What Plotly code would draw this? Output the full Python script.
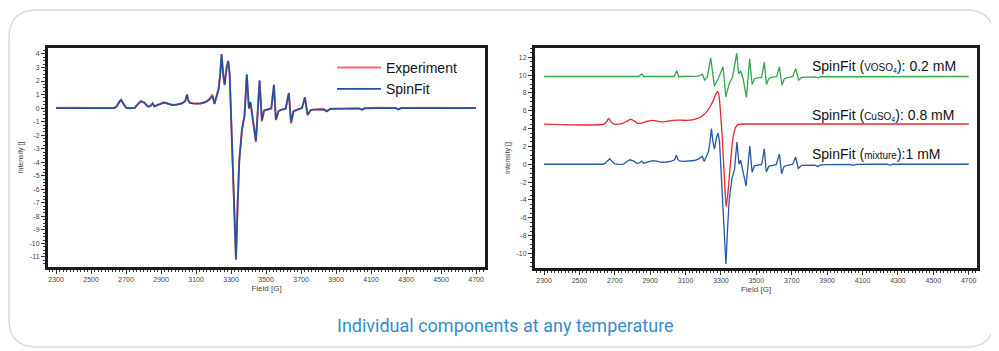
import plotly.graph_objects as go

# ---------------- data ----------------
mix_field = [2300, 2630, 2645, 2660, 2671, 2685, 2700, 2720, 2750, 2765, 2785, 2805, 2825, 2840, 2852,
             2862, 2880, 2900, 2915, 2935, 2962, 2990, 3020, 3038, 3048, 3056, 3065, 3090, 3124, 3150,
             3172, 3188, 3194, 3205, 3218, 3229, 3238, 3246, 3254, 3263, 3275, 3284, 3292, 3305, 3318,
             3328, 3338, 3347, 3362, 3377, 3390, 3402, 3411, 3423, 3442, 3463, 3476, 3489, 3510, 3530,
             3545, 3556, 3571, 3590, 3612, 3630, 3643, 3657, 3680, 3705, 3722, 3737, 3756, 3800, 3830,
             3847, 3866, 3900, 3950, 4030, 4047, 4065, 4150, 4240, 4256, 4272, 4400, 4700]
mix_int = [0.0, 0.0, 0.1, 0.45, 0.62, 0.3, 0.03, -0.02, 0.02, 0.25, 0.5, 0.38, 0.1, 0.15, 0.35,
           0.12, 0.22, 0.35, 0.4, 0.35, 0.22, 0.25, 0.35, 0.5, 1.0, 0.55, 0.38, 0.32, 0.33, 0.42,
           0.58, 0.8, 0.9, 0.3, 0.9, 1.4, 2.5, 4.0, 2.6, 1.7, 3.0, 3.5, 2.5, -2.9, -8.5,
           -11.2, -7.0, -3.9, -1.65, -0.55, 2.5, 0.0, 0.45, -0.55, -2.45, 2.05, -0.9, -0.17, -0.08, -0.02,
           1.73, -0.86, -0.22, -0.1, -0.05, 1.13, -1.06, -0.22, -0.1, 0.0, 0.8, -0.47, -0.12, -0.08, -0.1,
           -0.25, -0.07, -0.05, -0.03, -0.03, -0.12, -0.02, 0.0, 0.0, -0.1, 0.0, 0.0, 0.0]
exp_int = [0.02, 0.01, 0.12, 0.47, 0.6, 0.32, 0.05, 0.0, 0.03, 0.27, 0.52, 0.4, 0.12, 0.17, 0.33,
           0.14, 0.24, 0.37, 0.42, 0.36, 0.24, 0.27, 0.37, 0.52, 0.98, 0.57, 0.4, 0.34, 0.35, 0.45,
           0.62, 0.9, 1.0, 0.35, 0.92, 1.45, 2.55, 3.95, 2.65, 1.75, 3.05, 3.45, 2.45, -2.8, -8.4,
           -11.1, -6.9, -3.8, -1.6, -0.5, 2.45, -0.05, 0.4, -0.6, -2.5, 2.0, -1.0, -0.2, -0.1, -0.03,
           1.7, -0.9, -0.25, -0.12, -0.06, 1.1, -1.15, -0.25, -0.12, 0.0, 0.78, -0.55, -0.15, -0.07, -0.09,
           -0.22, -0.05, -0.04, -0.02, -0.02, -0.1, 0.0, 0.02, 0.01, -0.08, 0.01, 0.02, 0.01]

vo_field = [2300, 2835, 2852, 2865, 2880, 3035, 3050, 3061, 3075, 3170, 3195, 3208, 3223, 3242, 3263,
            3285, 3312, 3327, 3347, 3366, 3389, 3400, 3411, 3425, 3444, 3462, 3476, 3489, 3510, 3530,
            3545, 3557, 3570, 3592, 3615, 3630, 3645, 3658, 3680, 3705, 3722, 3739, 3756, 3800, 3835,
            3850, 3865, 4700]
vo_int = [9.85, 9.85, 10.13, 9.82, 9.85, 9.85, 10.5, 9.8, 9.85, 9.9, 10.1, 9.45, 9.8, 11.95, 8.77,
          9.63, 10.94, 7.57, 9.07, 9.83, 12.45, 10.13, 10.5, 9.63, 7.5, 11.8, 8.96, 9.6, 9.7, 9.75,
          11.47, 8.96, 9.63, 9.78, 9.83, 10.94, 8.88, 9.6, 9.75, 9.83, 10.72, 9.45, 9.75, 9.8, 9.8,
          9.7, 9.82, 9.85]

cu_field = [2300, 2640, 2655, 2665, 2680, 2696, 2740, 2770, 2790, 2810, 2830, 2852, 2880, 2914, 2940,
            2970, 3000, 3031, 3070, 3106, 3140, 3163, 3185, 3200, 3215, 3229, 3245, 3257, 3270, 3280,
            3288, 3295, 3303, 3310, 3320, 3329, 3338, 3347, 3356, 3364, 3372, 3381, 3390, 3400, 3420, 4700]
cu_int = [4.5, 4.5, 4.8, 5.14, 4.75, 4.5, 4.55, 4.85, 5.03, 4.85, 4.6, 4.62, 4.8, 4.93, 4.85,
          4.75, 4.85, 4.93, 4.95, 4.92, 4.98, 5.11, 5.3, 5.52, 5.8, 6.16, 6.7, 7.2, 7.8, 8.17,
          7.8, 6.45, 4.2, 1.97, -1.8, -4.77, -3.5, -1.4, 0.6, 2.35, 3.4, 4.03, 4.35, 4.48, 4.52, 4.52]

x_ticks = list(range(2300, 4701, 200))
x_ticktext = [str(v) for v in x_ticks]
yl_ticks = list(range(-11, 5))
yl_ticktext = [str(v) for v in yl_ticks]
yr_ticks = list(range(-10, 13, 2))
yr_ticktext = [str(v) for v in yr_ticks]

legend_names = ["Experiment", "SpinFit"]
label_vo = "SpinFit (<span style='font-size:10px'>VOSO<sub>4</sub></span>): 0.2 mM"
label_cu = "SpinFit (<span style='font-size:10px'>CuSO<sub>4</sub></span>): 0.8 mM"
label_mix = "SpinFit (<span style='font-size:10px'>mixture</span>):1 mM"
title_text = "Individual components at any temperature"

# ---------------- figure ----------------
# the page body has an 8px margin, so the figure is offset by 8px
OFF = 8
W, H = 999 - OFF, 351 - OFF
def px(x):
    return (x - OFF) / W
def py(y):
    return 1 - (y - OFF) / H

fig = go.Figure()
fig.add_trace(go.Scatter(x=mix_field, y=exp_int, mode="lines", name=legend_names[0],
                         line=dict(color="#ff6a6a", width=2.0), xaxis="x", yaxis="y"))
fig.add_trace(go.Scatter(x=mix_field, y=mix_int, mode="lines", name=legend_names[1],
                         line=dict(color="#2350a0", width=1.7), xaxis="x", yaxis="y"))

fig.add_trace(go.Scatter(x=vo_field, y=vo_int, mode="lines", showlegend=False,
                         line=dict(color="#2fa84a", width=1.3), xaxis="x2", yaxis="y2"))
fig.add_trace(go.Scatter(x=cu_field, y=cu_int, mode="lines", showlegend=False,
                         line=dict(color="#e8242c", width=1.3, shape="spline", smoothing=0.6),
                         xaxis="x2", yaxis="y2"))
fig.add_trace(go.Scatter(x=mix_field, y=mix_int, mode="lines", showlegend=False,
                         line=dict(color="#2458a8", width=1.3), xaxis="x2", yaxis="y2"))

tickfont = dict(family="Liberation Sans, Arial", size=7, color="#444")
common_axis = dict(showline=True, linewidth=3, linecolor="#1c1c1c", mirror=True,
                   showgrid=False, zeroline=False, ticks="outside", ticklen=4,
                   tickcolor="#333", tickwidth=1, tickfont=tickfont)

xcommon = dict(common_axis, tickmode="array", tickvals=x_ticks, ticktext=x_ticktext,
               minor=dict(tickmode="linear", tick0=2300, dtick=20, ticks="outside", ticklen=2,
                          tickcolor="#333"),
               title=dict(text="Field [G]", font=dict(family="Liberation Sans, Arial", size=8, color="#444"),
                          standoff=3))

fig.update_layout(
    width=W, height=H, autosize=False,
    margin=dict(l=0, r=0, t=0, b=0),
    paper_bgcolor="white", plot_bgcolor="white",
    xaxis=dict(xcommon, domain=[px(48), px(485)], range=[2254, 4751], anchor="y"),
    yaxis=dict(common_axis, domain=[py(267), py(48)], range=[-11.74, 4.44], anchor="x",
               tickmode="array", tickvals=yl_ticks, ticktext=yl_ticktext,
               minor=dict(tickmode="linear", tick0=0, dtick=0.25, ticks="outside", ticklen=2, tickcolor="#333"),
               title=dict(text="Intensity []", font=dict(family="Liberation Sans, Arial", size=7, color="#444"),
                          standoff=6)),
    xaxis2=dict(xcommon, domain=[px(535), px(977)], range=[2249, 4747], anchor="y2"),
    yaxis2=dict(common_axis, domain=[py(268), py(48)], range=[-11.65, 13.05], anchor="x2",
                tickmode="array", tickvals=yr_ticks, ticktext=yr_ticktext,
                minor=dict(tickmode="linear", tick0=0, dtick=0.5, ticks="outside", ticklen=2, tickcolor="#333"),
                title=dict(text="Intensity []", font=dict(family="Liberation Sans, Arial", size=7, color="#444"),
                           standoff=6)),
    legend=dict(x=px(332), y=py(52), xanchor="left", yanchor="top", bgcolor="rgba(0,0,0,0)",
                font=dict(family="Liberation Sans, Arial", size=14, color="#111"),
                itemwidth=44, tracegroupgap=0),
    showlegend=True,
)

# card outline (rounded rectangle)
x0, y0, x1, y1, r = 9, 10, 994, 347, 28
path = (f"M{px(x0 + r)},{py(y0)} L{px(x1 - r)},{py(y0)} Q{px(x1)},{py(y0)} {px(x1)},{py(y0 + r)} "
        f"L{px(x1)},{py(y1 - r)} Q{px(x1)},{py(y1)} {px(x1 - r)},{py(y1)} "
        f"L{px(x0 + r)},{py(y1)} Q{px(x0)},{py(y1)} {px(x0)},{py(y1 - r)} "
        f"L{px(x0)},{py(y0 + r)} Q{px(x0)},{py(y0)} {px(x0 + r)},{py(y0)} Z")
fig.add_shape(type="path", path=path, xref="paper", yref="paper",
              line=dict(color="#d3dde5", width=1.5), fillcolor="rgba(0,0,0,0)", layer="below")

lab_font = dict(family="Liberation Sans, Arial", size=14, color="#111")
for txt, yy in [(label_vo, 66), (label_cu, 115), (label_mix, 154)]:
    fig.add_annotation(text=txt, xref="paper", yref="paper", x=px(810), y=py(yy),
                       xanchor="left", yanchor="middle", showarrow=False, font=lab_font)

fig.add_annotation(text=title_text, xref="paper", yref="paper", x=px(505), y=py(325),
                   xanchor="center", yanchor="middle", showarrow=False,
                   font=dict(family="Roboto", size=18, color="#348ccd"))

fig.write_html("out.html")
